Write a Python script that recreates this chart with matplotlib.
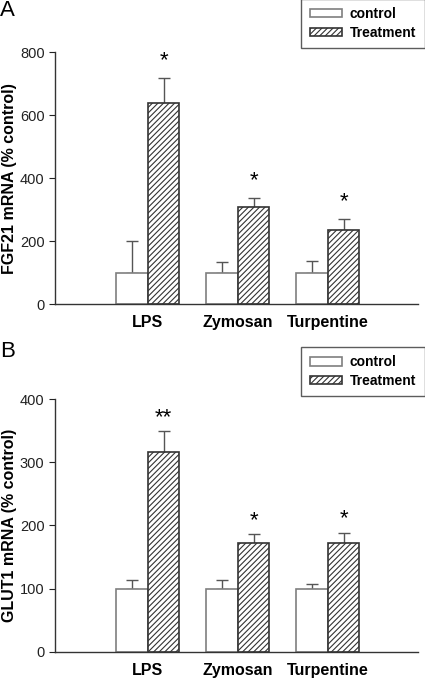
import numpy as np
import matplotlib
matplotlib.use("Agg")
import matplotlib.pyplot as plt

plt.rcParams['font.family'] = ['Liberation Sans', 'DejaVu Sans']
plt.rcParams['hatch.linewidth'] = 0.8

# Donnees
categories = ['LPS', 'Zymosan', 'Turpentine']
series_names = ['control', 'Treatment']

fgf21_control = [100, 100, 100]
fgf21_control_err = [100, 35, 37]
fgf21_treat = [638, 308, 237]
fgf21_treat_err = [82, 30, 33]
fgf21_stars = ['*', '*', '*']

glut1_control = [100, 100, 100]
glut1_control_err = [13, 13, 8]
glut1_treat = [316, 172, 173]
glut1_treat_err = [33, 14, 15]
glut1_stars = ['**', '*', '*']


def draw_panel(fig, ax, ctrl, ctrl_err, treat, treat_err, stars, ymax, ystep, ylabel, star_pad, leg_top):
    x = np.arange(1, len(categories) + 1)
    w = 0.35
    ax.bar(x - w / 2, ctrl, w, color='white', edgecolor='#7f7f7f', linewidth=1.2,
           label=series_names[0], zorder=2)
    ax.bar(x + w / 2, treat, w, color='white', edgecolor='#333333', linewidth=1.2,
           hatch='//////', label=series_names[1], zorder=2)
    ax.errorbar(x - w / 2, ctrl, yerr=[np.zeros(len(ctrl)), ctrl_err], fmt='none',
                ecolor='#555555', elinewidth=1, capsize=4, capthick=1, zorder=1)
    ax.errorbar(x + w / 2, treat, yerr=[np.zeros(len(treat)), treat_err], fmt='none',
                ecolor='#555555', elinewidth=1, capsize=4, capthick=1, zorder=1)
    for xi, t, e, s in zip(x, treat, treat_err, stars):
        ax.text(xi + w / 2, t + e + star_pad, s, ha='center', va='center', fontsize=16)

    ax.set_xlim(-0.03, 4.0)
    ax.set_ylim(0, ymax)
    ax.set_yticks(np.arange(0, ymax + 1, ystep))
    ax.set_xticks(x)
    ax.set_xticklabels(categories, fontsize=11.5, fontweight='bold')
    ax.tick_params(axis='x', length=0, pad=8)
    ax.tick_params(axis='y', direction='out', length=4, labelsize=10.5, colors='#222222')
    ax.set_ylabel(ylabel, fontsize=11.5, fontweight='bold', va='center')
    ax.yaxis.set_label_coords(-0.126, 0.5)
    for sp in ['top', 'right']:
        ax.spines[sp].set_visible(False)
    for sp in ['left', 'bottom']:
        ax.spines[sp].set_color('#333333')
        ax.spines[sp].set_linewidth(1)
    leg = ax.legend(loc='upper right', bbox_to_anchor=(0.999, leg_top),
                    bbox_transform=fig.transFigure,
                    prop={'weight': 'bold', 'size': 10}, frameon=True, fancybox=False,
                    edgecolor='#333333', handlelength=2.3, handleheight=0.6,
                    handletextpad=0.6, borderpad=0.6, labelspacing=0.35,
                    borderaxespad=0)
    leg.get_frame().set_linewidth(1)
    return ax


fig = plt.figure(figsize=(4.25, 6.78), dpi=100)
ax1 = fig.add_axes([0.1294, 0.5512, 0.8541, 0.3716])
ax2 = fig.add_axes([0.1294, 0.0388, 0.8541, 0.3723])

draw_panel(fig, ax1, fgf21_control, fgf21_control_err, fgf21_treat, fgf21_treat_err,
           fgf21_stars, 800, 200, 'FGF21 mRNA (% control)', 55, 1.002)
draw_panel(fig, ax2, glut1_control, glut1_control_err, glut1_treat, glut1_treat_err,
           glut1_stars, 400, 100, 'GLUT1 mRNA (% control)', 22, 0.4887)

fig.text(0.0, 1.0, 'A', fontsize=16, va='top', ha='left')
fig.text(0.0, 0.497, 'B', fontsize=16, va='top', ha='left')

fig.savefig('out.png', dpi=100)
